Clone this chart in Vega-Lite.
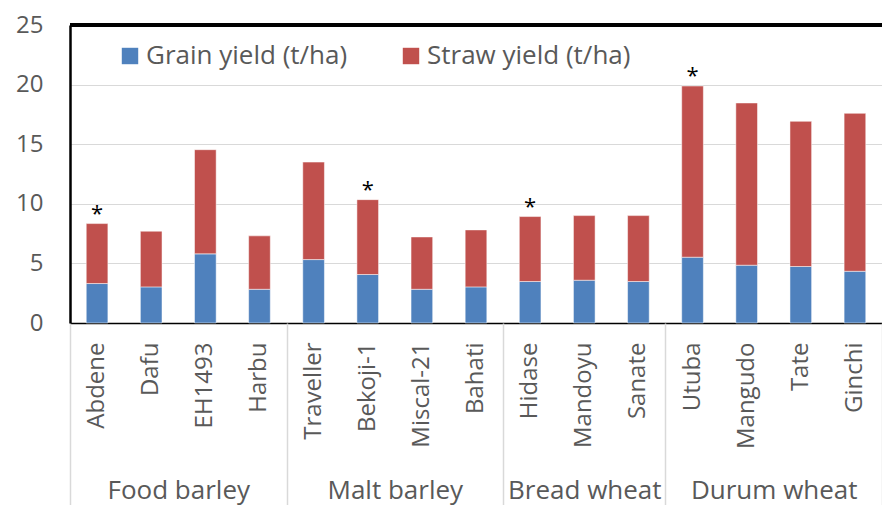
{
  "$schema": "https://vega.github.io/schema/vega-lite/v6.json",
  "autosize": {"type": "none"},
  "padding": {"left": 70, "top": 25, "right": 0, "bottom": 182},
  "width": 812,
  "height": 298,
  "data": {"values": [
    {"group": "Food barley", "variety": "Abdene", "component": "Grain yield (t/ha)", "value": 3.31, "star": ""},
    {"group": "Food barley", "variety": "Abdene", "component": "Straw yield (t/ha)", "value": 5.03, "star": "*"},
    {"group": "Food barley", "variety": "Dafu", "component": "Grain yield (t/ha)", "value": 3.03, "star": ""},
    {"group": "Food barley", "variety": "Dafu", "component": "Straw yield (t/ha)", "value": 4.67, "star": ""},
    {"group": "Food barley", "variety": "EH1493", "component": "Grain yield (t/ha)", "value": 5.8, "star": ""},
    {"group": "Food barley", "variety": "EH1493", "component": "Straw yield (t/ha)", "value": 8.74, "star": ""},
    {"group": "Food barley", "variety": "Harbu", "component": "Grain yield (t/ha)", "value": 2.83, "star": ""},
    {"group": "Food barley", "variety": "Harbu", "component": "Straw yield (t/ha)", "value": 4.48, "star": ""},
    {"group": "Malt barley", "variety": "Traveller", "component": "Grain yield (t/ha)", "value": 5.32, "star": ""},
    {"group": "Malt barley", "variety": "Traveller", "component": "Straw yield (t/ha)", "value": 8.18, "star": ""},
    {"group": "Malt barley", "variety": "Bekoji-1", "component": "Grain yield (t/ha)", "value": 4.07, "star": ""},
    {"group": "Malt barley", "variety": "Bekoji-1", "component": "Straw yield (t/ha)", "value": 6.28, "star": "*"},
    {"group": "Malt barley", "variety": "Miscal-21", "component": "Grain yield (t/ha)", "value": 2.83, "star": ""},
    {"group": "Malt barley", "variety": "Miscal-21", "component": "Straw yield (t/ha)", "value": 4.39, "star": ""},
    {"group": "Malt barley", "variety": "Bahati", "component": "Grain yield (t/ha)", "value": 3.03, "star": ""},
    {"group": "Malt barley", "variety": "Bahati", "component": "Straw yield (t/ha)", "value": 4.78, "star": ""},
    {"group": "Bread wheat", "variety": "Hidase", "component": "Grain yield (t/ha)", "value": 3.48, "star": ""},
    {"group": "Bread wheat", "variety": "Hidase", "component": "Straw yield (t/ha)", "value": 5.45, "star": "*"},
    {"group": "Bread wheat", "variety": "Mandoyu", "component": "Grain yield (t/ha)", "value": 3.59, "star": ""},
    {"group": "Bread wheat", "variety": "Mandoyu", "component": "Straw yield (t/ha)", "value": 5.42, "star": ""},
    {"group": "Bread wheat", "variety": "Sanate", "component": "Grain yield (t/ha)", "value": 3.48, "star": ""},
    {"group": "Bread wheat", "variety": "Sanate", "component": "Straw yield (t/ha)", "value": 5.53, "star": ""},
    {"group": "Durum wheat", "variety": "Utuba", "component": "Grain yield (t/ha)", "value": 5.52, "star": ""},
    {"group": "Durum wheat", "variety": "Utuba", "component": "Straw yield (t/ha)", "value": 14.36, "star": "*"},
    {"group": "Durum wheat", "variety": "Mangudo", "component": "Grain yield (t/ha)", "value": 4.85, "star": ""},
    {"group": "Durum wheat", "variety": "Mangudo", "component": "Straw yield (t/ha)", "value": 13.61, "star": ""},
    {"group": "Durum wheat", "variety": "Tate", "component": "Grain yield (t/ha)", "value": 4.74, "star": ""},
    {"group": "Durum wheat", "variety": "Tate", "component": "Straw yield (t/ha)", "value": 12.18, "star": ""},
    {"group": "Durum wheat", "variety": "Ginchi", "component": "Grain yield (t/ha)", "value": 4.34, "star": ""},
    {"group": "Durum wheat", "variety": "Ginchi", "component": "Straw yield (t/ha)", "value": 13.25, "star": ""}
  ]},
  "layer": [
    {
      "layer": [
        {
          "mark": {"type": "bar", "stroke": "white", "strokeWidth": 0.5},
          "encoding": {
            "x": {"field": "variety", "type": "nominal", "sort": null, "title": null,
                  "scale": {"paddingInner": 0.6, "paddingOuter": 0.3},
                  "axis": {"orient": "bottom", "labelAngle": -90, "labelFontSize": 24, "labelColor": "#595959", "labelPadding": 19,
                           "domainColor": "black", "domainWidth": 1.5, "ticks": false}},
            "y": {"field": "value", "type": "quantitative", "stack": "zero", "title": null,
                  "scale": {"domain": [0, 25], "nice": false},
                  "axis": {"values": [0, 5, 10, 15, 20, 25], "labelFontSize": 24, "labelColor": "#595959", "labelPadding": 27,
                           "ticks": false, "domainColor": "black", "domainWidth": 2.5, "gridColor": "#d9d9d9", "gridWidth": 1.2}},
            "order": {"field": "component", "sort": "ascending"},
            "color": {"field": "component", "type": "nominal", "title": null,
                      "scale": {"domain": ["Grain yield (t/ha)", "Straw yield (t/ha)"], "range": ["#4F81BD", "#C0504D"]},
                      "legend": {"orient": "none", "legendX": 47, "legendY": 18, "direction": "horizontal", "symbolType": "square",
                                 "symbolSize": 270, "symbolStrokeWidth": 0, "labelFontSize": 26, "labelColor": "#595959",
                                 "labelLimit": 0, "columnPadding": 50, "labelOffset": 3}}
          }
        },
        {
          "transform": [
            {"joinaggregate": [{"op": "sum", "field": "value", "as": "total"}], "groupby": ["variety"]},
            {"filter": "datum.star == '*'"}
          ],
          "mark": {"type": "text", "fontSize": 22, "color": "black", "baseline": "alphabetic", "dy": -3},
          "encoding": {
            "x": {"field": "variety", "type": "nominal", "sort": null},
            "y": {"field": "total", "type": "quantitative"},
            "text": {"field": "star"}
          }
        },
        {
          "mark": {"type": "rule", "color": "black", "strokeWidth": 2.5},
          "encoding": {"y": {"datum": 25}}
        }
      ]
    },
    {
      "mark": {"type": "rule", "opacity": 0},
      "encoding": {
        "x": {"datum": 0, "type": "quantitative",
              "scale": {"domain": [0, 15], "nice": false, "zero": false},
              "axis": {"orient": "bottom", "title": null, "values": [0, 2, 4, 6, 8, 9.5, 11, 13, 15],
                       "domain": false, "grid": false, "ticks": true, "tickSize": 182, "tickColor": "#d9d9d9", "tickWidth": 1.5,
                       "tickOpacity": {"condition": {"test": "indexof([0, 4, 8, 11, 15], datum.value) >= 0", "value": 1}, "value": 0},
                       "labelExpr": "datum.value == 2 ? 'Food barley' : datum.value == 6 ? 'Malt barley' : datum.value == 9.5 ? 'Bread wheat' : datum.value == 13 ? 'Durum wheat' : ''",
                       "labelFontSize": 26, "labelColor": "#595959", "labelBaseline": "alphabetic", "labelPadding": -7,
                       "labelFlush": false, "labelOverlap": false, "labelBound": false}}
      }
    }
  ],
  "resolve": {"scale": {"x": "independent"}, "axis": {"x": "independent"}},
  "config": {
    "font": "Open Sans",
    "view": {"stroke": null}
  }
}
